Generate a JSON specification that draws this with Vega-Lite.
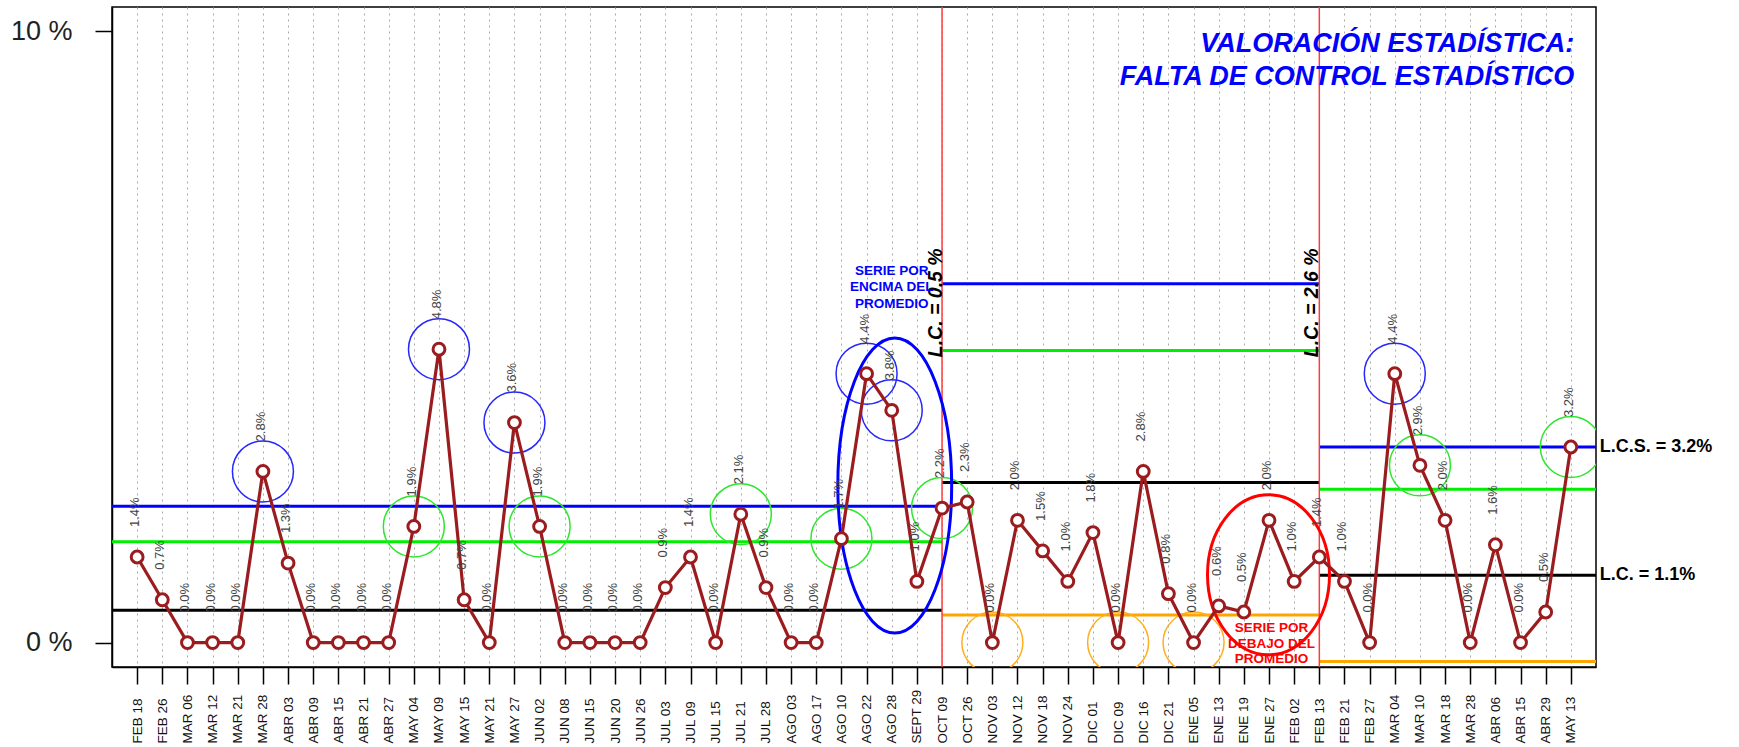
{
  "$schema": "https://vega.github.io/schema/vega-lite/v6.json",
  "width": 1484,
  "height": 660,
  "autosize": {"type": "none"},
  "padding": {"left": 112, "top": 7, "right": 143, "bottom": 80},
  "background": "white",
  "config": {"font": "Liberation Sans", "view": {"stroke": "black", "strokeWidth": 1.5}},
  "datasets": {
    "main": [
      {"x": 1, "fecha": "FEB 18", "y": 1.4, "label": "1.4%"},
      {"x": 2, "fecha": "FEB 26", "y": 0.7, "label": "0.7%"},
      {"x": 3, "fecha": "MAR 06", "y": 0, "label": "0.0%"},
      {"x": 4, "fecha": "MAR 12", "y": 0, "label": "0.0%"},
      {"x": 5, "fecha": "MAR 21", "y": 0, "label": "0.0%"},
      {"x": 6, "fecha": "MAR 28", "y": 2.8, "label": "2.8%"},
      {"x": 7, "fecha": "ABR 03", "y": 1.3, "label": "1.3%"},
      {"x": 8, "fecha": "ABR 09", "y": 0, "label": "0.0%"},
      {"x": 9, "fecha": "ABR 15", "y": 0, "label": "0.0%"},
      {"x": 10, "fecha": "ABR 21", "y": 0, "label": "0.0%"},
      {"x": 11, "fecha": "ABR 27", "y": 0, "label": "0.0%"},
      {"x": 12, "fecha": "MAY 04", "y": 1.9, "label": "1.9%"},
      {"x": 13, "fecha": "MAY 09", "y": 4.8, "label": "4.8%"},
      {"x": 14, "fecha": "MAY 15", "y": 0.7, "label": "0.7%"},
      {"x": 15, "fecha": "MAY 21", "y": 0, "label": "0.0%"},
      {"x": 16, "fecha": "MAY 27", "y": 3.6, "label": "3.6%"},
      {"x": 17, "fecha": "JUN 02", "y": 1.9, "label": "1.9%"},
      {"x": 18, "fecha": "JUN 08", "y": 0, "label": "0.0%"},
      {"x": 19, "fecha": "JUN 15", "y": 0, "label": "0.0%"},
      {"x": 20, "fecha": "JUN 20", "y": 0, "label": "0.0%"},
      {"x": 21, "fecha": "JUN 26", "y": 0, "label": "0.0%"},
      {"x": 22, "fecha": "JUL 03", "y": 0.9, "label": "0.9%"},
      {"x": 23, "fecha": "JUL 09", "y": 1.4, "label": "1.4%"},
      {"x": 24, "fecha": "JUL 15", "y": 0, "label": "0.0%"},
      {"x": 25, "fecha": "JUL 21", "y": 2.1, "label": "2.1%"},
      {"x": 26, "fecha": "JUL 28", "y": 0.9, "label": "0.9%"},
      {"x": 27, "fecha": "AGO 03", "y": 0, "label": "0.0%"},
      {"x": 28, "fecha": "AGO 17", "y": 0, "label": "0.0%"},
      {"x": 29, "fecha": "AGO 10", "y": 1.7, "label": "1.7%"},
      {"x": 30, "fecha": "AGO 22", "y": 4.4, "label": "4.4%"},
      {"x": 31, "fecha": "AGO 28", "y": 3.8, "label": "3.8%"},
      {"x": 32, "fecha": "SEPT 29", "y": 1.0, "label": "1.0%"},
      {"x": 33, "fecha": "OCT 09", "y": 2.2, "label": "2.2%"},
      {"x": 34, "fecha": "OCT 26", "y": 2.3, "label": "2.3%"},
      {"x": 35, "fecha": "NOV 03", "y": 0, "label": "0.0%"},
      {"x": 36, "fecha": "NOV 12", "y": 2.0, "label": "2.0%"},
      {"x": 37, "fecha": "NOV 18", "y": 1.5, "label": "1.5%"},
      {"x": 38, "fecha": "NOV 24", "y": 1.0, "label": "1.0%"},
      {"x": 39, "fecha": "DIC 01", "y": 1.8, "label": "1.8%"},
      {"x": 40, "fecha": "DIC 09", "y": 0, "label": "0.0%"},
      {"x": 41, "fecha": "DIC 16", "y": 2.8, "label": "2.8%"},
      {"x": 42, "fecha": "DIC 21", "y": 0.8, "label": "0.8%"},
      {"x": 43, "fecha": "ENE 05", "y": 0, "label": "0.0%"},
      {"x": 44, "fecha": "ENE 13", "y": 0.6, "label": "0.6%"},
      {"x": 45, "fecha": "ENE 19", "y": 0.5, "label": "0.5%"},
      {"x": 46, "fecha": "ENE 27", "y": 2.0, "label": "2.0%"},
      {"x": 47, "fecha": "FEB 02", "y": 1.0, "label": "1.0%"},
      {"x": 48, "fecha": "FEB 13", "y": 1.4, "label": "1.4%"},
      {"x": 49, "fecha": "FEB 21", "y": 1.0, "label": "1.0%"},
      {"x": 50, "fecha": "FEB 27", "y": 0, "label": "0.0%"},
      {"x": 51, "fecha": "MAR 04", "y": 4.4, "label": "4.4%"},
      {"x": 52, "fecha": "MAR 10", "y": 2.9, "label": "2.9%"},
      {"x": 53, "fecha": "MAR 18", "y": 2.0, "label": "2.0%"},
      {"x": 54, "fecha": "MAR 28", "y": 0, "label": "0.0%"},
      {"x": 55, "fecha": "ABR 06", "y": 1.6, "label": "1.6%"},
      {"x": 56, "fecha": "ABR 15", "y": 0, "label": "0.0%"},
      {"x": 57, "fecha": "ABR 29", "y": 0.5, "label": "0.5%"},
      {"x": 58, "fecha": "MAY 13", "y": 3.2, "label": "3.2%"}
    ],
    "limits": [
      {"x": 0, "x2": 33, "y": 2.23, "kind": "LCS"},
      {"x": 0, "x2": 33, "y": 1.65, "kind": "2S"},
      {"x": 0, "x2": 33, "y": 0.53, "kind": "LC"},
      {"x": 33, "x2": 48, "y": 5.87, "kind": "LCS"},
      {"x": 33, "x2": 48, "y": 4.78, "kind": "2S"},
      {"x": 33, "x2": 48, "y": 2.62, "kind": "LC"},
      {"x": 33, "x2": 48, "y": 0.45, "kind": "2I"},
      {"x": 48, "x2": 59, "y": 3.2, "kind": "LCS"},
      {"x": 48, "x2": 59, "y": 2.51, "kind": "2S"},
      {"x": 48, "x2": 59, "y": 1.1, "kind": "LC"},
      {"x": 48, "x2": 59, "y": -0.31, "kind": "2I"}
    ],
    "breaks": [{"x": 33, "y": -0.4, "y2": 10.4}, {"x": 48, "y": -0.4, "y2": 10.4}],
    "rings": [
      {"x": 6, "y": 2.8, "ring": "alto"},
      {"x": 13, "y": 4.8, "ring": "alto"},
      {"x": 16, "y": 3.6, "ring": "alto"},
      {"x": 30, "y": 4.4, "ring": "alto"},
      {"x": 31, "y": 3.8, "ring": "alto"},
      {"x": 51, "y": 4.4, "ring": "alto"},
      {"x": 12, "y": 1.9, "ring": "aviso"},
      {"x": 17, "y": 1.9, "ring": "aviso"},
      {"x": 25, "y": 2.1, "ring": "aviso"},
      {"x": 29, "y": 1.7, "ring": "aviso"},
      {"x": 33, "y": 2.2, "ring": "aviso"},
      {"x": 52, "y": 2.9, "ring": "aviso"},
      {"x": 58, "y": 3.2, "ring": "aviso"},
      {"x": 35, "y": 0, "ring": "bajo"},
      {"x": 40, "y": 0, "ring": "bajo"},
      {"x": 43, "y": 0, "ring": "bajo"}
    ]
  },
  "encoding": {
    "x": {"field": "x", "type": "quantitative", "scale": {"domain": [0, 59], "nice": false, "zero": false},
      "axis": {
        "values": [1,2,3,4,5,6,7,8,9,10,11,12,13,14,15,16,17,18,19,20,21,22,23,24,25,26,27,28,29,30,31,32,33,34,35,36,37,38,39,40,41,42,43,44,45,46,47,48,49,50,51,52,53,54,55,56,57,58],
        "labelExpr": "['FEB 18','FEB 26','MAR 06','MAR 12','MAR 21','MAR 28','ABR 03','ABR 09','ABR 15','ABR 21','ABR 27','MAY 04','MAY 09','MAY 15','MAY 21','MAY 27','JUN 02','JUN 08','JUN 15','JUN 20','JUN 26','JUL 03','JUL 09','JUL 15','JUL 21','JUL 28','AGO 03','AGO 17','AGO 10','AGO 22','AGO 28','SEPT 29','OCT 09','OCT 26','NOV 03','NOV 12','NOV 18','NOV 24','DIC 01','DIC 09','DIC 16','DIC 21','ENE 05','ENE 13','ENE 19','ENE 27','FEB 02','FEB 13','FEB 21','FEB 27','MAR 04','MAR 10','MAR 18','MAR 28','ABR 06','ABR 15','ABR 29','MAY 13'][datum.value - 1]",
        "labelAngle": 270, "labelAlign": "left", "labelBaseline": "middle",
        "labelPadding": 59, "labelFontSize": 13.5, "labelColor": "#111",
        "labelOverlap": false, "labelBound": false, "labelFlush": false,
        "tickSize": 17, "tickColor": "black", "tickWidth": 1.5,
        "domainColor": "black", "domainWidth": 1.5,
        "grid": true, "gridDash": [2, 4], "gridColor": "#a8a8a8", "gridWidth": 1,
        "title": null
      }},
    "y": {"field": "y", "type": "quantitative", "scale": {"domain": [-0.4, 10.4], "nice": false, "zero": false},
      "axis": {
        "values": [0, 10], "labelExpr": "datum.value + ' %'",
        "labelFontSize": 27, "labelColor": "#222", "labelPadding": 23,
        "tickSize": 17, "tickColor": "black", "tickWidth": 1.5,
        "domainColor": "black", "domainWidth": 1.5, "grid": false, "title": null
      }}
  },
  "layer": [
    {
      "data": {"name": "limits"},
      "mark": {"type": "rule", "strokeWidth": 3},
      "encoding": {
        "x2": {"field": "x2"},
        "color": {"field": "kind", "type": "nominal", "legend": null,
          "scale": {"domain": ["LCS", "2S", "LC", "2I"], "range": ["#0000ff", "#00ee00", "#000000", "#ffa500"]}}
      }
    },
    {
      "data": {"name": "breaks"},
      "mark": {"type": "rule", "color": "#ff3b3b", "strokeWidth": 1.5},
      "encoding": {"y2": {"field": "y2"}}
    },
    {
      "data": {"name": "rings"},
      "mark": {"type": "point", "shape": "circle", "size": 3721, "filled": false, "strokeWidth": 1.5, "opacity": 1, "clip": true},
      "encoding": {
        "stroke": {"field": "ring", "type": "nominal", "legend": null,
          "scale": {"domain": ["alto", "aviso", "bajo"], "range": ["#2626ff", "#2ee62e", "#ffae1f"]}}
      }
    },
    {
      "data": {"values": [{"x": 31.12, "y": 2.57}]},
      "mark": {"type": "point", "shape": "M-0.386,0C-0.386,-0.5523,-0.2132,-1,0,-1C0.2132,-1,0.386,-0.5523,0.386,0C0.386,0.5523,0.2132,1,0,1C-0.2132,1,-0.386,0.5523,-0.386,0Z", "size": 87025, "filled": false, "stroke": "#0000ff", "strokeWidth": 3, "opacity": 1}
    },
    {
      "data": {"values": [{"x": 45.98, "y": 1.11}]},
      "mark": {"type": "point", "shape": "M-0.7625,0C-0.7625,-0.5523,-0.4211,-1,0,-1C0.4211,-1,0.7625,-0.5523,0.7625,0C0.7625,0.5523,0.4211,1,0,1C-0.4211,1,-0.7625,0.5523,-0.7625,0Z", "size": 25600, "filled": false, "stroke": "#ff0000", "strokeWidth": 3, "opacity": 1}
    },
    {
      "data": {"name": "main"},
      "mark": {"type": "line", "color": "#9b1c1f", "strokeWidth": 3.2}
    },
    {
      "data": {"name": "main"},
      "mark": {"type": "point", "shape": "circle", "size": 140, "fill": "white", "stroke": "#9b1c1f", "strokeWidth": 3, "opacity": 1}
    },
    {
      "data": {"name": "main"},
      "mark": {"type": "text", "angle": 270, "align": "left", "baseline": "middle", "dx": 30, "dy": -2, "fontSize": 13, "color": "#444"},
      "encoding": {"text": {"field": "label"}}
    },
    {
      "data": {"values": [{"x": 32.75, "y": 5.56, "t": "L.C. = 0.5 %"}, {"x": 47.72, "y": 5.56, "t": "L.C. = 2.6 %"}]},
      "mark": {"type": "text", "angle": 270, "align": "center", "baseline": "middle", "fontSize": 19.5, "fontWeight": "bold", "fontStyle": "italic", "color": "black"},
      "encoding": {"text": {"field": "t"}}
    },
    {
      "data": {"values": [{"x": 58.14, "y": 9.8, "t": "VALORACIÓN ESTADÍSTICA:"}, {"x": 58.14, "y": 9.26, "t": "FALTA DE CONTROL ESTADÍSTICO"}]},
      "mark": {"type": "text", "align": "right", "baseline": "middle", "fontSize": 27, "fontWeight": "bold", "fontStyle": "italic", "color": "#0000ff"},
      "encoding": {"text": {"field": "t"}}
    },
    {
      "data": {"values": [{"x": 31.0, "y": 6.085, "t": "SERIE POR\nENCIMA DEL\nPROMEDIO"}]},
      "mark": {"type": "text", "align": "center", "baseline": "middle", "fontSize": 13.5, "fontWeight": "bold", "lineBreak": "\n", "lineHeight": 16.5, "color": "#0000ff"},
      "encoding": {"text": {"field": "t"}}
    },
    {
      "data": {"values": [{"x": 46.1, "y": 0.237, "t": "SERIE POR\nDEBAJO DEL\nPROMEDIO"}]},
      "mark": {"type": "text", "align": "center", "baseline": "middle", "fontSize": 13.5, "fontWeight": "bold", "lineBreak": "\n", "lineHeight": 15.5, "color": "#ff0000"},
      "encoding": {"text": {"field": "t"}}
    },
    {
      "data": {"values": [{"x": 59.15, "y": 3.2, "t": "L.C.S. =  3.2%"}, {"x": 59.15, "y": 1.1, "t": "L.C. =  1.1%"}]},
      "mark": {"type": "text", "align": "left", "baseline": "middle", "fontSize": 18, "fontWeight": "bold", "color": "black"},
      "encoding": {"text": {"field": "t"}}
    }
  ]
}
